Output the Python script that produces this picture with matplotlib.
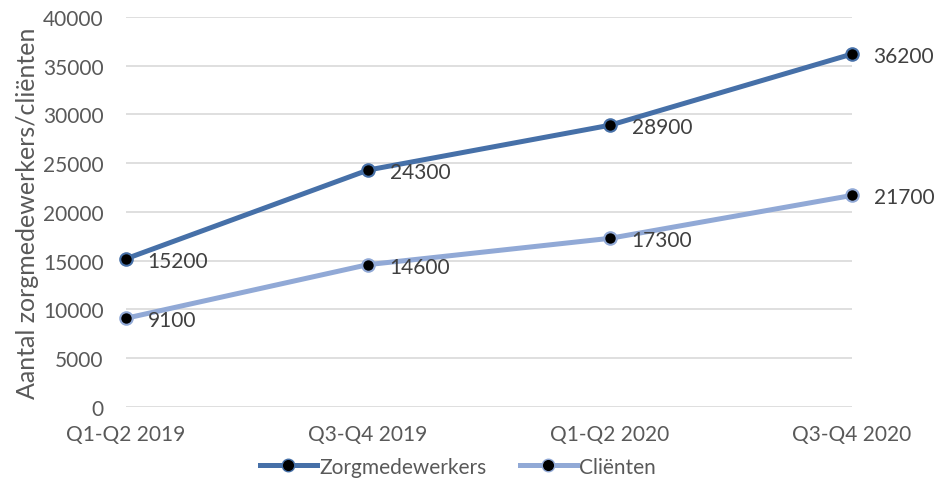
import matplotlib
matplotlib.use("Agg")
import matplotlib.pyplot as plt
from matplotlib.lines import Line2D

categories = ["Q1-Q2 2019", "Q3-Q4 2019", "Q1-Q2 2020", "Q3-Q4 2020"]
zorg = [15200, 24300, 28900, 36200]
clienten = [9100, 14600, 17300, 21700]
yticks = [0, 5000, 10000, 15000, 20000, 25000, 30000, 35000, 40000]

plt.rcParams['font.family'] = ['Lato', 'DejaVu Sans']
dark = "#4670A8"
light = "#91A9D6"
txt = "#595959"
fs = 15

fig = plt.figure(figsize=(9.34, 4.81), dpi=100)
ax = fig.add_axes([0.1349, 0.1518, 0.7773, 0.8108])
x = list(range(len(categories)))

for vals, col, name in [(zorg, dark, "Zorgmedewerkers"), (clienten, light, "Cliënten")]:
    ax.plot(x, vals, color=col, lw=3.6, marker='o', markersize=9,
            markerfacecolor='black', markeredgecolor=col, markeredgewidth=1.5,
            label=name, zorder=3, clip_on=False)
    for xi, v in zip(x, vals):
        ax.annotate(f"{v}", (xi, v), xytext=(15.5, -1.5), textcoords='offset points',
                    ha='left', va='center', fontsize=fs, color='#404040')

ax.set_xlim(0, 3)
ax.set_ylim(0, 40000)
ax.set_yticks(yticks)
ax.set_xticks(x)
ax.set_xticklabels(categories)
ax.grid(axis='y', color='#D9D9D9', lw=1.2)
ax.set_axisbelow(True)
for s in ax.spines.values():
    s.set_visible(False)
ax.tick_params(axis='both', length=0, labelsize=fs, colors=txt)
ax.tick_params(axis='y', pad=16)
ax.tick_params(axis='x', pad=12)
ax.set_ylabel("Aantal zorgmedewerkers/cliënten", fontsize=18, color=txt, labelpad=3)

handles = [Line2D([0], [0], color=dark, lw=3.6, marker='o', markersize=9,
                  markerfacecolor='black', markeredgecolor=dark),
           Line2D([0], [0], color=light, lw=3.6, marker='o', markersize=9,
                  markerfacecolor='black', markeredgecolor=light)]
fig.legend(handles, ["Zorgmedewerkers", "Cliënten"], loc='center',
           bbox_to_anchor=(0.49, 0.028), ncol=2, frameon=False, fontsize=fs,
           labelcolor=txt, handlelength=2.75, handletextpad=0.1, columnspacing=1.6)

fig.savefig("out.png", dpi=100)
